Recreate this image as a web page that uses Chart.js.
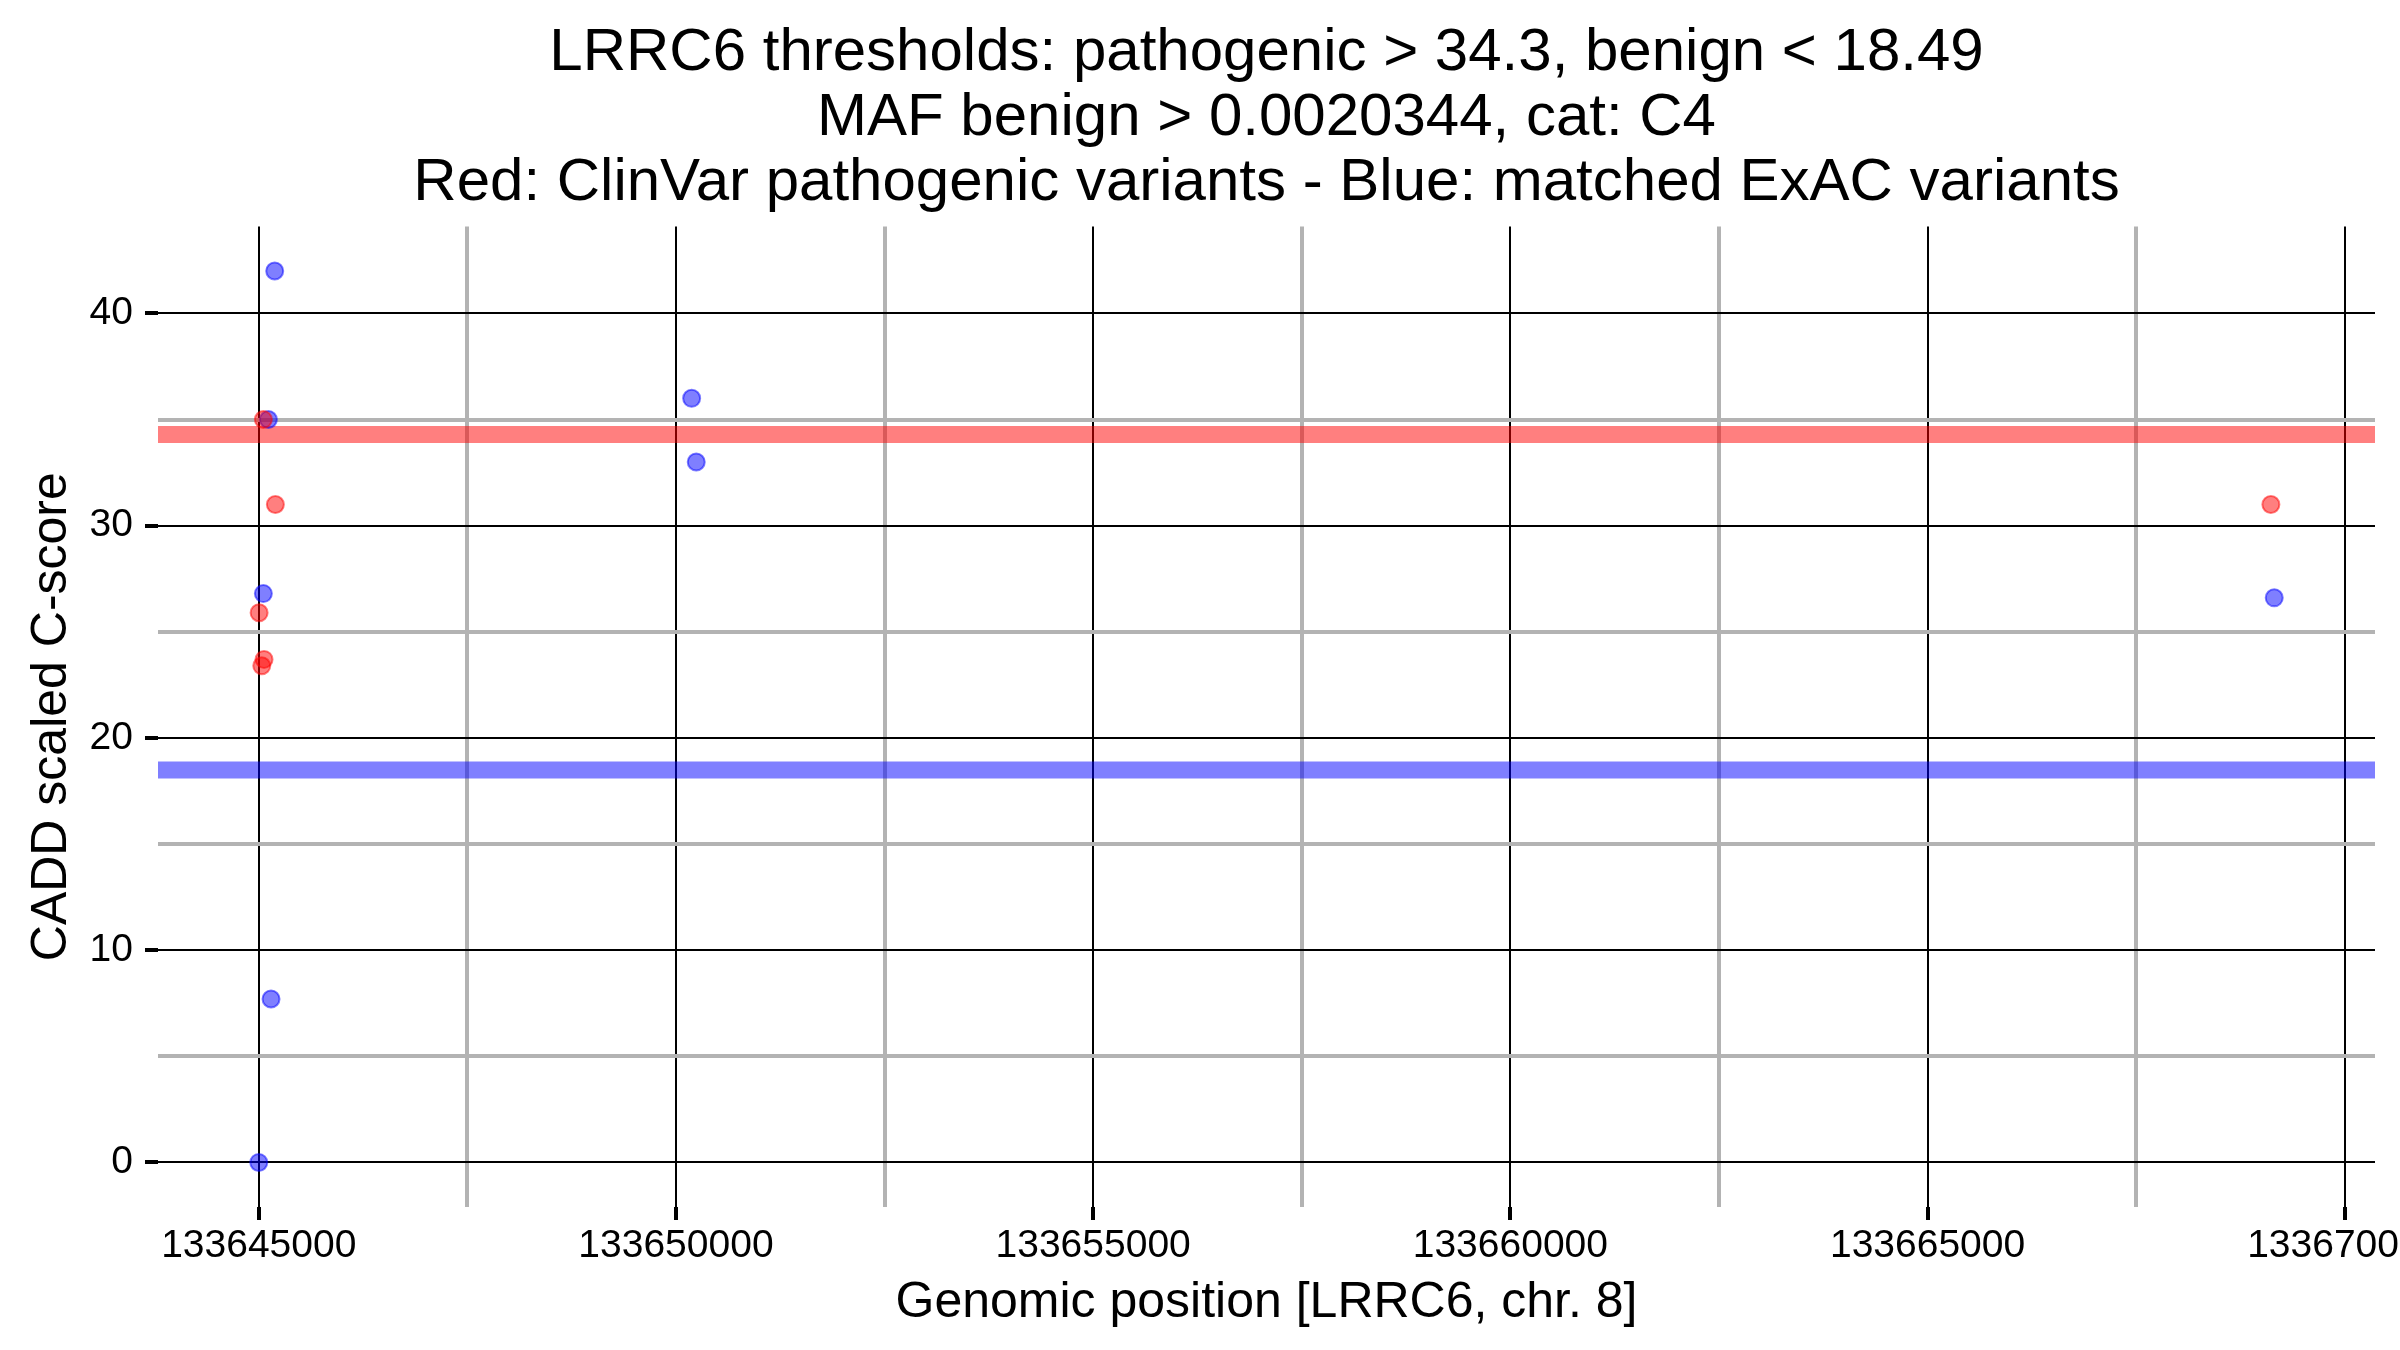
<!DOCTYPE html>
<html>
<head>
<meta charset="utf-8">
<script src="https://cdn.jsdelivr.net/npm/chart.js@4.4.1/dist/chart.umd.min.js"></script>
<style>
    body { margin: 0; background: #ffffff; overflow: hidden; }
    #wrap { width: 2400px; height: 1350px; }
</style>
</head>
<body>
<div id="wrap"><canvas id="myChart" width="2400" height="1350"></canvas></div>
<script>
// ClinVar pathogenic variants (red)
const redX = [133645055, 133645199, 133645004, 133645063, 133645036, 133669115];
const redY = [35, 31, 25.9, 23.7, 23.4, 31];

// matched ExAC variants (blue)
const blueX = [133645191, 133645115, 133645055, 133645147, 133645000, 133650188, 133650243, 133669155];
const blueY = [42, 35, 26.8, 7.7, 0, 36, 33, 26.6];

const pathogenicThreshold = 34.3;
const benignThreshold = 18.49;

const xMajorTicks = [133645000, 133650000, 133655000, 133660000, 133665000, 133670000];
const xMinorTicks = [133647500, 133652500, 133657500, 133662500, 133667500];
const yMajorTicks = [0, 10, 20, 30, 40];
const yMinorTicks = [5, 15, 25, 35];

const titleLines = [
    'LRRC6 thresholds: pathogenic > 34.3, benign < 18.49',
    'MAF benign > 0.0020344, cat: C4',
    'Red: ClinVar pathogenic variants - Blue: matched ExAC variants'
];

const FONT = "'Liberation Sans', Arial, Helvetica, sans-serif";

// ggplot-like 5% expansion of the data range
function expand(values) {
    const lo = Math.min(...values), hi = Math.max(...values);
    const pad = (hi - lo) * 0.05;
    return [lo - pad, hi + pad];
}
const [xMin, xMax] = expand(redX.concat(blueX));
const [yMin, yMax] = expand(redY.concat(blueY, [pathogenicThreshold, benignThreshold]));

function toPoints(xs, ys) {
    return xs.map((x, i) => ({ x: x, y: ys[i] }));
}

function withMinor(major, minor) {
    return function (scale) {
        scale.ticks = major.concat(minor).sort((a, b) => a - b).map(v => ({ value: v }));
    };
}

function isMajor(list) {
    return ctx => ctx.tick && list.includes(ctx.tick.value);
}

const xIsMajor = isMajor(xMajorTicks);
const yIsMajor = isMajor(yMajorTicks);

const ctx1 = document.getElementById('myChart');

new Chart(ctx1, {
    type: 'scatter',
    data: {
        datasets: [{
            label: 'ClinVar',
            data: toPoints(redX, redY),
            backgroundColor: 'rgba(255,0,0,0.5)',
            borderColor: 'rgba(255,0,0,0.5)',
            borderWidth: 2,
            pointRadius: 8.5
        }, {
            label: 'ExAC',
            data: toPoints(blueX, blueY),
            backgroundColor: 'rgba(0,0,255,0.5)',
            borderColor: 'rgba(0,0,255,0.5)',
            borderWidth: 2,
            pointRadius: 8.5
        }, {
            type: 'line',
            label: 'pathogenic',
            data: [{ x: xMin, y: pathogenicThreshold }, { x: xMax, y: pathogenicThreshold }],
            borderColor: 'rgba(255,0,0,0.5)',
            borderWidth: 17,
            borderCapStyle: 'butt',
            pointRadius: 0
        }, {
            type: 'line',
            label: 'benign',
            data: [{ x: xMin, y: benignThreshold }, { x: xMax, y: benignThreshold }],
            borderColor: 'rgba(0,0,255,0.5)',
            borderWidth: 17,
            borderCapStyle: 'butt',
            pointRadius: 0
        }]
    },
    options: {
        responsive: false,
        animation: false,
        devicePixelRatio: 1,
        layout: {
            autoPadding: false,
            padding: { left: 0, right: 25, top: 0, bottom: 0 }
        },
        plugins: {
            legend: { display: false },
            tooltip: { enabled: false },
            title: {
                display: true,
                fullSize: false,
                text: titleLines,
                color: '#000000',
                font: { family: FONT, size: 60, weight: 'normal', lineHeight: 1.08 },
                padding: { top: 21, bottom: 11 }
            }
        },
        scales: {
            x: {
                type: 'linear',
                min: xMin,
                max: xMax,
                afterBuildTicks: withMinor(xMajorTicks, xMinorTicks),
                afterFit: function (scale) {
                    scale.height = 143;
                    scale.paddingLeft = 0;
                    scale.paddingRight = 0;
                },
                border: { display: false },
                grid: {
                    color: ctx => xIsMajor(ctx) ? '#000000' : '#b3b3b3',
                    lineWidth: ctx => xIsMajor(ctx) ? 2 : 4,
                    tickColor: ctx => xIsMajor(ctx) ? '#000000' : 'rgba(0,0,0,0)',
                    tickWidth: 4,
                    tickLength: 13
                },
                ticks: {
                    autoSkip: false,
                    maxRotation: 0,
                    padding: 3,
                    color: '#000000',
                    font: { family: FONT, size: 39 },
                    callback: value => xMajorTicks.includes(value) ? String(value) : ''
                },
                title: {
                    display: true,
                    text: 'Genomic position [LRRC6, chr. 8]',
                    color: '#000000',
                    font: { family: FONT, size: 50 },
                    padding: { top: 0, bottom: 17 }
                }
            },
            y: {
                type: 'linear',
                min: yMin,
                max: yMax,
                afterBuildTicks: withMinor(yMajorTicks, yMinorTicks),
                afterFit: function (scale) {
                    scale.width = 158;
                    scale.paddingTop = 0;
                    scale.paddingBottom = 0;
                },
                border: { display: false },
                grid: {
                    color: ctx => yIsMajor(ctx) ? '#000000' : '#b3b3b3',
                    lineWidth: ctx => yIsMajor(ctx) ? 2 : 4,
                    tickColor: ctx => yIsMajor(ctx) ? '#000000' : 'rgba(0,0,0,0)',
                    tickWidth: 4,
                    tickLength: 13
                },
                ticks: {
                    autoSkip: false,
                    padding: 12,
                    color: '#000000',
                    font: { family: FONT, size: 39 },
                    callback: value => yMajorTicks.includes(value) ? String(value) : ''
                },
                title: {
                    display: true,
                    text: 'CADD scaled C-score',
                    color: '#000000',
                    font: { family: FONT, size: 50 },
                    padding: { top: 22, bottom: 0 }
                }
            }
        }
    }
});
</script>
</body>
</html>
